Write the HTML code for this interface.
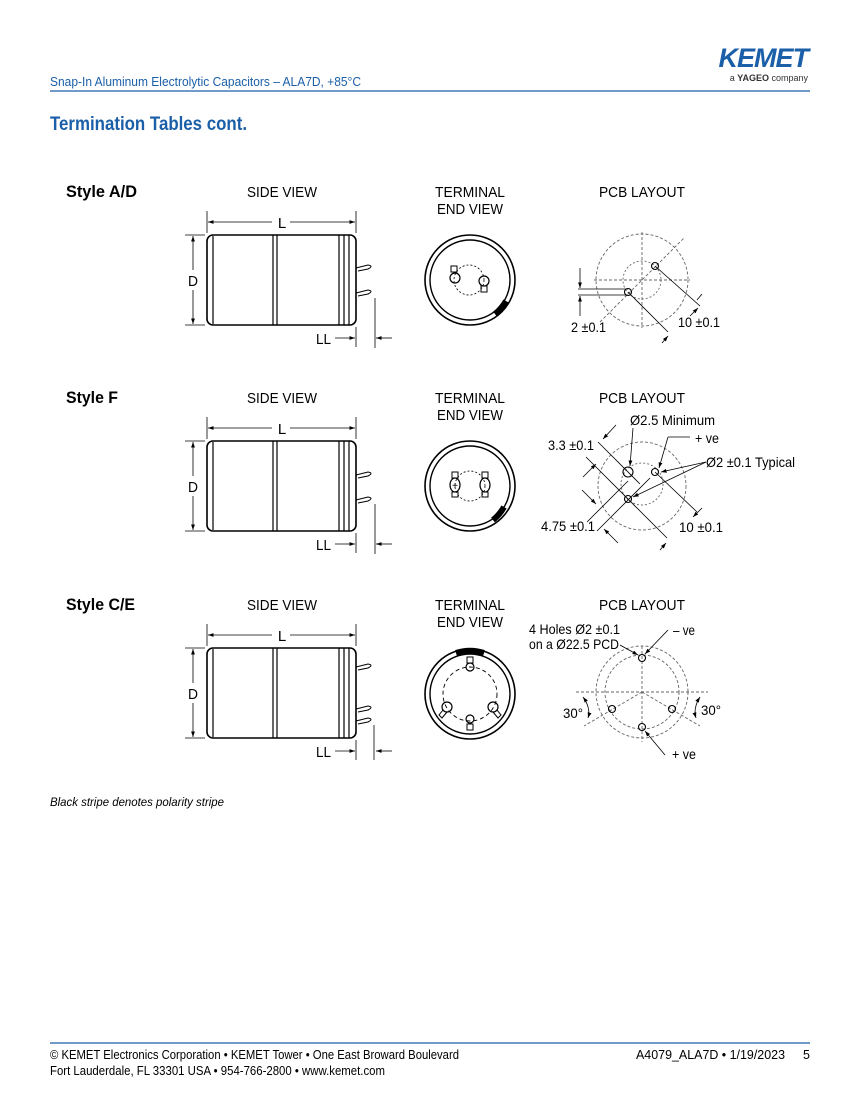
<!DOCTYPE html>
<html><head><meta charset="utf-8"><style>
html,body{margin:0;padding:0;background:#fff;}
svg{display:block;}
text{font-family:"Liberation Sans",sans-serif;}
</style></head><body>
<svg width="860" height="1113" viewBox="0 0 860 1113" xmlns="http://www.w3.org/2000/svg">
<defs>
<marker id="ar" viewBox="0 0 10 10" refX="10" refY="5" markerWidth="7" markerHeight="7" orient="auto-start-reverse"><path d="M0,1.5 L10,5 L0,8.5 z" fill="#000"/></marker>
<g id="body">
  <rect x="207" y="0" width="149" height="90" rx="6" fill="#fff" stroke="#000" stroke-width="1.6"/>
  <line x1="213" y1="1" x2="213" y2="89" stroke="#000" stroke-width="1.2"/>
  <line x1="273" y1="0" x2="273" y2="90" stroke="#000" stroke-width="1.2"/>
  <line x1="277" y1="0" x2="277" y2="90" stroke="#000" stroke-width="1.2"/>
  <line x1="339" y1="0" x2="339" y2="90" stroke="#000" stroke-width="1.2"/>
  <line x1="344" y1="0" x2="344" y2="90" stroke="#000" stroke-width="1.2"/>
  <line x1="349" y1="0" x2="349" y2="90" stroke="#000" stroke-width="1.2"/>
  <line x1="207" y1="-24" x2="207" y2="-2" stroke="#000" stroke-width="0.8"/>
  <line x1="356" y1="-24" x2="356" y2="-2" stroke="#000" stroke-width="0.8"/>
  <line x1="208" y1="-13" x2="272" y2="-13" stroke="#000" stroke-width="0.8" marker-start="url(#ar)"/>
  <line x1="290" y1="-13" x2="355" y2="-13" stroke="#000" stroke-width="0.8" marker-end="url(#ar)"/>
  <text x="282" y="-7" font-size="15" text-anchor="middle">L</text>
  <line x1="185" y1="0" x2="205" y2="0" stroke="#000" stroke-width="0.8"/>
  <line x1="185" y1="90" x2="205" y2="90" stroke="#000" stroke-width="0.8"/>
  <line x1="193" y1="1" x2="193" y2="35" stroke="#000" stroke-width="0.8" marker-start="url(#ar)"/>
  <line x1="193" y1="55" x2="193" y2="89" stroke="#000" stroke-width="0.8" marker-end="url(#ar)"/>
  <text x="193" y="51" font-size="15" text-anchor="middle" textLength="10" lengthAdjust="spacingAndGlyphs">D</text>
  <line x1="356" y1="92" x2="356" y2="112" stroke="#000" stroke-width="0.8"/>
  <line x1="335" y1="103" x2="355" y2="103" stroke="#000" stroke-width="0.8" marker-end="url(#ar)"/>
  <line x1="392" y1="103" x2="376" y2="103" stroke="#000" stroke-width="0.8" marker-end="url(#ar)"/>
  <text x="316" y="109" font-size="15" textLength="15" lengthAdjust="spacingAndGlyphs">LL</text>
</g>
<g id="pin"><path d="M356,0 L368,-3 Q374,-2 368,1 L358,3" fill="none" stroke="#000" stroke-width="1"/></g>
</defs>

<!-- Header -->
<text x="50" y="86" font-size="12.5" fill="#1b5fa8" textLength="311" lengthAdjust="spacingAndGlyphs">Snap-In Aluminum Electrolytic Capacitors – ALA7D, +85°C</text>
<line x1="50" y1="91" x2="810" y2="91" stroke="#1b5fa8" stroke-width="1.2"/>
<text x="808" y="67" font-size="27" font-weight="bold" font-style="italic" fill="#1b5fa8" text-anchor="end" letter-spacing="-1">KEMET</text>
<text x="808" y="81" font-size="9" fill="#333" text-anchor="end">a <tspan font-weight="bold">YAGEO</tspan> company</text>
<text x="50" y="130" font-size="19" font-weight="bold" fill="#1b5fa8" textLength="197" lengthAdjust="spacingAndGlyphs">Termination Tables cont.</text>

<!-- Row labels -->
<g font-size="17" font-weight="bold">
<text x="66" y="197" textLength="71" lengthAdjust="spacingAndGlyphs">Style A/D</text>
<text x="66" y="403" textLength="52" lengthAdjust="spacingAndGlyphs">Style F</text>
<text x="66" y="610" textLength="69" lengthAdjust="spacingAndGlyphs">Style C/E</text></g>
<g font-size="15">
<text x="247" y="197" textLength="70" lengthAdjust="spacingAndGlyphs">SIDE VIEW</text><text x="435" y="197" textLength="70" lengthAdjust="spacingAndGlyphs">TERMINAL</text><text x="437" y="214" textLength="66" lengthAdjust="spacingAndGlyphs">END VIEW</text><text x="599" y="197" textLength="86" lengthAdjust="spacingAndGlyphs">PCB LAYOUT</text>
<text x="247" y="403" textLength="70" lengthAdjust="spacingAndGlyphs">SIDE VIEW</text><text x="435" y="403" textLength="70" lengthAdjust="spacingAndGlyphs">TERMINAL</text><text x="437" y="420" textLength="66" lengthAdjust="spacingAndGlyphs">END VIEW</text><text x="599" y="403" textLength="86" lengthAdjust="spacingAndGlyphs">PCB LAYOUT</text>
<text x="247" y="610" textLength="70" lengthAdjust="spacingAndGlyphs">SIDE VIEW</text><text x="435" y="610" textLength="70" lengthAdjust="spacingAndGlyphs">TERMINAL</text><text x="437" y="627" textLength="66" lengthAdjust="spacingAndGlyphs">END VIEW</text><text x="599" y="610" textLength="86" lengthAdjust="spacingAndGlyphs">PCB LAYOUT</text>
</g>

<!-- Side views -->
<use href="#body" transform="translate(0,235)"/>
<use href="#pin" transform="translate(0,268)"/><use href="#pin" transform="translate(0,293)"/>
<line x1="375" y1="298" x2="375" y2="348" stroke="#000" stroke-width="0.8"/>

<use href="#body" transform="translate(0,441)"/>
<use href="#pin" transform="translate(0,475)"/><use href="#pin" transform="translate(0,500)"/>
<line x1="375" y1="504" x2="375" y2="554" stroke="#000" stroke-width="0.8"/>

<use href="#body" transform="translate(0,648)"/>
<use href="#pin" transform="translate(0,667)"/><use href="#pin" transform="translate(0,709)"/><use href="#pin" transform="translate(0,721)"/>
<line x1="374" y1="725" x2="374" y2="760" stroke="#000" stroke-width="0.8"/>

<!-- End views -->
<g fill="none" stroke="#000">
<circle cx="470" cy="280" r="45" stroke-width="1.6"/><circle cx="470" cy="280" r="40" stroke-width="1.4"/>
<path d="M497,316 A45,45 0 0 0 508,303" stroke-width="6" transform="translate(-2,-2)"/>
<circle cx="469" cy="280" r="15" stroke-dasharray="2,2" stroke-width="0.8"/>
<rect x="451" y="266" width="6" height="6" stroke-width="1"/><circle cx="455" cy="278" r="5" stroke-width="1.2"/>
<circle cx="484" cy="281" r="5" stroke-width="1.2"/><rect x="481" y="286" width="6" height="6" stroke-width="1"/>

<circle cx="470" cy="486" r="45" stroke-width="1.6"/><circle cx="470" cy="486" r="40" stroke-width="1.4"/>
<path d="M495,522 A45,45 0 0 0 506,509" stroke-width="6" transform="translate(-2,-2)"/>
<circle cx="470" cy="486" r="15" stroke-dasharray="2,2" stroke-width="0.8"/>
<rect x="452" y="472" width="6" height="6" stroke-width="1"/><ellipse cx="455" cy="485" rx="5" ry="7" stroke-width="1.2"/><rect x="452" y="492" width="6" height="5" stroke-width="1"/>
<rect x="482" y="472" width="6" height="6" stroke-width="1"/><ellipse cx="485" cy="485" rx="5" ry="7" stroke-width="1.2"/><rect x="482" y="492" width="6" height="5" stroke-width="1"/>
<text x="455" y="489" font-size="10" text-anchor="middle" fill="#000" stroke="none">+</text>

<circle cx="470" cy="694" r="45" stroke-width="1.6"/><circle cx="470" cy="694" r="40" stroke-width="1.4"/>
<path d="M456,651 A45,45 0 0 1 484,651" stroke-width="6" transform="translate(0,2)"/>
<circle cx="470" cy="694" r="27" stroke-dasharray="4,3" stroke-width="0.9"/>
<circle cx="470" cy="667" r="4" stroke-width="1.2"/><rect x="467" y="657" width="6" height="6"/>
<circle cx="470" cy="719" r="4" stroke-width="1.2"/><rect x="467" y="724" width="6" height="6"/>
<circle cx="447" cy="707" r="5" stroke-width="1.2"/><path d="M443,710 L439,715 L442,718 L447,712"/>
<circle cx="493" cy="707" r="5" stroke-width="1.2"/><path d="M497,710 L501,715 L498,718 L493,712"/>
</g>

<!-- PCB A/D -->
<g fill="none" stroke="#666" stroke-width="0.9" stroke-dasharray="3,2">
<circle cx="642" cy="280" r="46"/><circle cx="642" cy="280" r="19" stroke-dasharray="2,2"/>
<line x1="594" y1="280" x2="690" y2="280"/><line x1="642" y1="232" x2="642" y2="328"/>
<line x1="600" y1="322" x2="684" y2="238"/>
</g>
<g fill="none" stroke="#000" stroke-width="0.8">
<circle cx="655" cy="266" r="3.5" stroke-width="1.1"/><circle cx="628" cy="292" r="3.5" stroke-width="1.1"/>
<line x1="655" y1="266" x2="700" y2="306"/><line x1="628" y1="292" x2="668" y2="332"/>
<line x1="690" y1="316" x2="698" y2="308" marker-end="url(#ar)"/><line x1="662" y1="343" x2="668" y2="336" marker-end="url(#ar)"/>
<line x1="702" y1="294" x2="697" y2="300"/>
<line x1="578" y1="289" x2="628" y2="289"/><line x1="578" y1="295" x2="628" y2="295"/>
<line x1="580" y1="268" x2="580" y2="288" marker-end="url(#ar)"/><line x1="580" y1="316" x2="580" y2="296" marker-end="url(#ar)"/>
</g>
<g font-size="14"><text x="571" y="332" textLength="35" lengthAdjust="spacingAndGlyphs">2 ±0.1</text><text x="678" y="327" textLength="42" lengthAdjust="spacingAndGlyphs">10 ±0.1</text></g>

<!-- PCB F -->
<g fill="none" stroke="#666" stroke-width="0.9" stroke-dasharray="3,2">
<circle cx="642" cy="486" r="44"/><circle cx="642" cy="484" r="21" stroke-dasharray="2,2"/>
</g>
<g fill="none" stroke="#000" stroke-width="0.8">
<circle cx="628" cy="472" r="5" stroke-width="1.1"/><circle cx="655" cy="472" r="3.5" stroke-width="1.1"/><circle cx="628" cy="499" r="3.5" stroke-width="1.1"/>
<line x1="598" y1="442" x2="640" y2="484"/>
<line x1="586" y1="457" x2="667" y2="538"/>
<line x1="655" y1="472" x2="697" y2="512"/>
<line x1="587" y1="522" x2="628" y2="481"/>
<line x1="597" y1="531" x2="650" y2="478"/>
<line x1="616" y1="425" x2="603" y2="439" marker-end="url(#ar)"/>
<line x1="583" y1="477" x2="596" y2="464" marker-end="url(#ar)"/>
<line x1="582" y1="490" x2="596" y2="504" marker-end="url(#ar)"/>
<line x1="618" y1="543" x2="604" y2="529" marker-end="url(#ar)"/>
<line x1="702" y1="508" x2="693" y2="517" marker-end="url(#ar)"/>
<line x1="660" y1="550" x2="666" y2="543" marker-end="url(#ar)"/>
<line x1="633" y1="428" x2="630" y2="466" marker-end="url(#ar)"/>
<line x1="690" y1="437" x2="668" y2="437"/><line x1="668" y1="437" x2="659" y2="468" marker-end="url(#ar)"/>
<line x1="706" y1="462" x2="661" y2="472" marker-end="url(#ar)"/>
<line x1="706" y1="462" x2="633" y2="497" marker-end="url(#ar)"/>
</g>
<g font-size="14"><text x="630" y="425" textLength="85" lengthAdjust="spacingAndGlyphs">Ø2.5 Minimum</text><text x="695" y="443" textLength="24" lengthAdjust="spacingAndGlyphs">+ ve</text><text x="548" y="450" textLength="46" lengthAdjust="spacingAndGlyphs">3.3 ±0.1</text><text x="706" y="467" textLength="89" lengthAdjust="spacingAndGlyphs">Ø2 ±0.1 Typical</text><text x="541" y="531" textLength="54" lengthAdjust="spacingAndGlyphs">4.75 ±0.1</text><text x="679" y="532" textLength="44" lengthAdjust="spacingAndGlyphs">10 ±0.1</text></g>

<!-- PCB C/E -->
<g fill="none" stroke="#666" stroke-width="0.9" stroke-dasharray="3,2">
<circle cx="642" cy="692" r="46"/><circle cx="642" cy="692" r="37"/>
<line x1="576" y1="692" x2="708" y2="692"/><line x1="642" y1="646" x2="642" y2="742"/>
<line x1="642" y1="692" x2="584" y2="726"/><line x1="642" y1="692" x2="700" y2="726"/>
</g>
<g fill="none" stroke="#000" stroke-width="0.8">
<circle cx="642" cy="658" r="3.5" stroke-width="1.1"/><circle cx="642" cy="727" r="3.5" stroke-width="1.1"/>
<circle cx="612" cy="709" r="3.5" stroke-width="1.1"/><circle cx="672" cy="709" r="3.5" stroke-width="1.1"/>
<line x1="620" y1="645" x2="638" y2="655" marker-end="url(#ar)"/>
<line x1="668" y1="630" x2="645" y2="654" marker-end="url(#ar)"/>
<line x1="665" y1="755" x2="645" y2="731" marker-end="url(#ar)"/>
<path d="M583,697 Q591,708 588,718" marker-start="url(#ar)" marker-end="url(#ar)"/>
<path d="M700,697 Q693,708 696,718" marker-start="url(#ar)" marker-end="url(#ar)"/>
</g>
<g font-size="14"><text x="529" y="634" textLength="91" lengthAdjust="spacingAndGlyphs">4 Holes Ø2 ±0.1</text><text x="529" y="649" textLength="90" lengthAdjust="spacingAndGlyphs">on a Ø22.5 PCD</text><text x="673" y="635" textLength="22" lengthAdjust="spacingAndGlyphs">– ve</text><text x="563" y="718" textLength="20" lengthAdjust="spacingAndGlyphs">30°</text><text x="701" y="715" textLength="20" lengthAdjust="spacingAndGlyphs">30°</text><text x="672" y="759" textLength="24" lengthAdjust="spacingAndGlyphs">+ ve</text></g>

<text x="50" y="806" font-size="12" font-style="italic" textLength="174" lengthAdjust="spacingAndGlyphs">Black stripe denotes polarity stripe</text>

<!-- Footer -->
<line x1="50" y1="1043" x2="810" y2="1043" stroke="#1b5fa8" stroke-width="1.2"/>
<g font-size="12.5"><text x="50" y="1059" textLength="409" lengthAdjust="spacingAndGlyphs">© KEMET Electronics Corporation • KEMET Tower • One East Broward Boulevard</text>
<text x="50" y="1075" textLength="335" lengthAdjust="spacingAndGlyphs">Fort Lauderdale, FL 33301 USA • 954-766-2800 • www.kemet.com</text>
<text x="636" y="1059" textLength="149" lengthAdjust="spacingAndGlyphs">A4079_ALA7D • 1/19/2023</text><text x="810" y="1059" text-anchor="end">5</text></g>
</svg>
</body></html>
